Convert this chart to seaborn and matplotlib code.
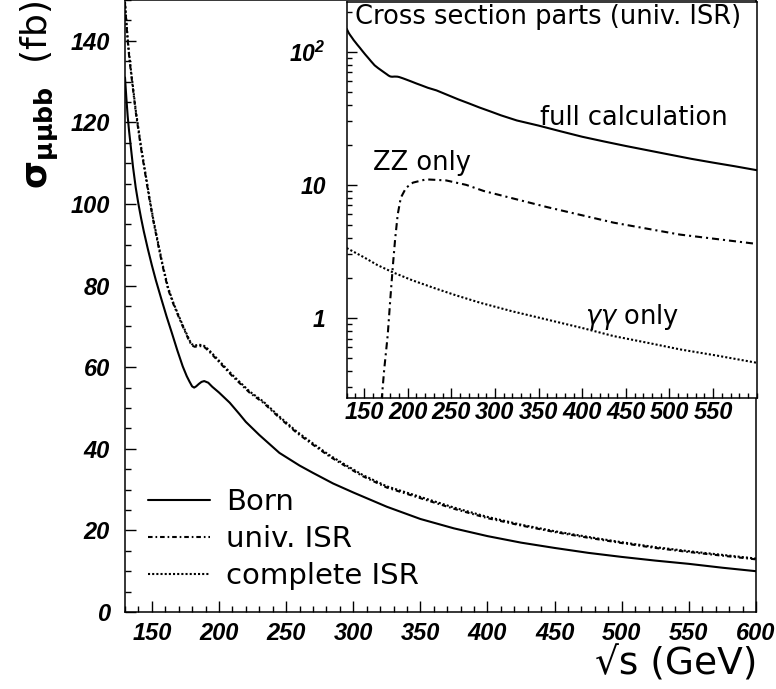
import numpy as np
import pandas as pd
import seaborn as sns
import matplotlib
matplotlib.use("Agg")
import matplotlib.pyplot as plt
from matplotlib.ticker import FixedLocator, MultipleLocator, FixedFormatter, LogLocator, NullFormatter
from matplotlib.font_manager import FontProperties

# ---------------- data ----------------
energy_born = [130, 131, 132, 133, 134, 135, 136, 137, 138, 140, 142, 144, 147, 150, 153, 157,
               161, 165, 169, 173, 176, 178, 180, 181.5, 183, 185, 187, 189, 192, 195, 200,
               208, 215, 220, 230, 245, 260, 270, 285, 300, 325, 350, 375, 400, 425, 450,
               475, 500, 525, 550, 575, 600]
sigma_born = [131, 126, 121.5, 118, 115, 112, 109, 106.5, 104, 100, 96.5, 93.3, 89, 85, 81.3, 76.8,
              72.4, 68.3, 64.1, 60.2, 57.8, 56.5, 55.3, 55.0, 55.3, 55.9, 56.4, 56.6, 56.2, 55.2, 53.8,
              51.3, 48.6, 46.6, 43.4, 39.0, 35.9, 34.1, 31.5, 29.3, 25.8, 22.8, 20.5, 18.6, 17.0, 15.7,
              14.5, 13.5, 12.6, 11.8, 10.85, 10.0]

energy_isr = [130, 131, 132, 133, 134, 136, 138, 140, 142, 145, 148, 151, 155, 158, 162, 166,
              170, 173, 176, 178, 180, 182, 185, 188, 190, 194, 198, 204, 210, 216, 223, 233,
              245, 258, 270, 282, 295, 307, 325, 350, 375, 400, 425, 450, 475, 500, 525, 550,
              575, 600]
sigma_univ = [149, 144.5, 140, 136.5, 133.5, 128, 122.5, 118, 113.5, 107.5, 101.5, 96, 89.5, 84.8, 79.2, 75.5,
              72.3, 70.0, 67.8, 66.3, 65.3, 65.0, 65.2, 65.1, 64.7, 63.4, 62.0, 59.9, 57.8, 55.9, 53.7, 51.3,
              47.6, 43.9, 41.0, 38.2, 35.6, 33.3, 30.5, 27.9, 25.3, 23.0, 21.2, 19.6, 18.2, 16.9, 15.7, 14.7,
              13.8, 12.9]
sigma_complete = [149.5, 145, 140.5, 137, 134, 128.5, 123, 118.5, 114, 108, 102, 96.4, 89.9, 85.2, 79.6, 75.8,
                  72.6, 70.3, 68.1, 66.6, 65.6, 65.3, 65.5, 65.4, 65.0, 63.7, 62.3, 60.2, 58.1, 56.2, 54.0, 51.6,
                  47.9, 44.2, 41.3, 38.5, 35.9, 33.6, 30.8, 28.2, 25.6, 23.3, 21.4, 19.8, 18.4, 17.1, 15.9, 14.9,
                  14.0, 13.1]

energy_zz = [170, 173, 177, 180, 183, 185.5, 188.5, 192, 198, 206, 221, 244, 267, 287,
             360, 436, 512, 600]
sigma_zz = [0.24, 0.41, 0.74, 1.39, 2.5, 3.9, 6.0, 8.0, 9.5, 10.4, 11.0, 10.8, 10.0, 9.0,
            6.8, 5.2, 4.23, 3.6]

energy_aa = [130, 150, 165, 183, 205, 230, 255, 283, 320, 360, 400, 436, 475, 512, 555, 600]
sigma_aa = [3.35, 2.85, 2.5, 2.2, 1.92, 1.68, 1.48, 1.3, 1.12, 0.97, 0.84, 0.73, 0.65, 0.58, 0.52, 0.46]

main_xticks = [150, 200, 250, 300, 350, 400, 450, 500, 550, 600]
main_yticks = [0, 20, 40, 60, 80, 100, 120, 140]
inset_xticks = [150, 200, 250, 300, 350, 400, 450, 500, 550]
inset_yticks = [1, 10, 100]
inset_ylabels = ["1", "10", "10$^{2}$"]

legend_labels = ["Born", "univ. ISR", "complete ISR"]

# ---------------- style ----------------
sns.set_style("white")
plt.rcParams["font.family"] = ["DejaVu Sans"]
plt.rcParams["mathtext.fontset"] = "dejavusans"
plt.rcParams["mathtext.default"] = "regular"
plt.rcParams["axes.linewidth"] = 1.1
plt.rcParams["axes.edgecolor"] = "black"
plt.rcParams["text.color"] = "black"
plt.rcParams["axes.labelcolor"] = "black"
plt.rcParams["xtick.color"] = "black"
plt.rcParams["ytick.color"] = "black"

tickfp = FontProperties(family="Liberation Sans", weight="bold", style="italic", size=17)
insetfp = FontProperties(family="Liberation Sans", weight="bold", style="italic", size=17)
insetyfp = FontProperties(family="Liberation Sans", weight="bold", style="italic", size=16.5)

fig = plt.figure(figsize=(7.76, 6.89), dpi=100)
ax = fig.add_axes([125 / 776, 77 / 689, 631 / 776, 612 / 689])

lw = 1.5
sns.lineplot(x=energy_born, y=sigma_born, ax=ax, color="black", lw=lw,
             label=legend_labels[0], errorbar=None)
sns.lineplot(x=energy_isr, y=sigma_univ, ax=ax, color="black", lw=lw,
             label=legend_labels[1], errorbar=None)
sns.lineplot(x=energy_isr, y=sigma_complete, ax=ax, color="black", lw=lw,
             label=legend_labels[2], errorbar=None)
ax.lines[0].set_linestyle("-")
ax.lines[1].set_linestyle((0, (2.2, 1.4, 0.8, 1.4)))
ax.lines[2].set_linestyle((0, (1, 1)))

ax.set_xlim(130, 600)
ax.set_ylim(0, 150)
ax.set_xlabel("")
ax.set_ylabel("")
ax.set_xticks(main_xticks)
ax.set_xticklabels([str(v) for v in main_xticks], fontproperties=tickfp)
ax.set_yticks(main_yticks)
ax.set_yticklabels([str(v) for v in main_yticks], fontproperties=tickfp)
ax.xaxis.set_minor_locator(MultipleLocator(10))
ax.yaxis.set_minor_locator(MultipleLocator(5))
ax.tick_params(which="both", direction="in", bottom=True, left=True, top=False, right=False,
               color="black", width=1.0)
ax.tick_params(axis="x", which="major", length=8, pad=7.5)
ax.tick_params(axis="y", which="major", length=8, pad=11)
ax.tick_params(which="minor", length=4)
for s in ax.spines.values():
    s.set_visible(True)
    s.set_color("black")

leg = ax.legend(handles=ax.lines[:3], labels=legend_labels, loc="upper left",
                bbox_to_anchor=(0.037, 0.203), frameon=False, fontsize=21,
                handlelength=2.1, handletextpad=0.55, labelspacing=0.32,
                borderpad=0, borderaxespad=0)

fig.text(757 / 776, 0.036, "\u221as (GeV)", ha="right", va="center", fontsize=27)
fig.text(0.052, 0.999, r"$\mathbf{\sigma}_{\mathbf{\mu\mu bb}}$  (fb)", rotation=90,
         ha="center", va="top", fontsize=26)

# ---------------- inset ----------------
axi = fig.add_axes([346.7 / 776, 291 / 689, 410 / 776, 396 / 689])
axi.set_zorder(5)
axi.set_facecolor("white")
sns.lineplot(x=energy_isr, y=sigma_univ, ax=axi, color="black", lw=lw, errorbar=None)
sns.lineplot(x=energy_zz, y=sigma_zz, ax=axi, color="black", lw=lw, errorbar=None)
sns.lineplot(x=energy_aa, y=sigma_aa, ax=axi, color="black", lw=lw, errorbar=None)
axi.lines[0].set_linestyle("-")
axi.lines[1].set_linestyle((0, (3.4, 1.9, 1.0, 1.9)))
axi.lines[2].set_linestyle((0, (1, 1)))
axi.set_yscale("log")
axi.set_xlim(130, 600)
axi.set_ylim(0.25, 237)
axi.set_xlabel("")
axi.set_ylabel("")
axi.set_xticks(inset_xticks)
axi.set_xticklabels([str(v) for v in inset_xticks], fontproperties=insetfp)
axi.xaxis.set_minor_locator(MultipleLocator(10))
axi.set_yticks(inset_yticks)
axi.set_yticklabels(inset_ylabels, fontproperties=insetyfp)
axi.yaxis.set_minor_locator(LogLocator(base=10, subs=np.arange(2, 10)))
axi.yaxis.set_minor_formatter(NullFormatter())
axi.tick_params(which="both", direction="in", bottom=True, left=True, top=False, right=False,
                color="black", width=1.0)
axi.tick_params(axis="x", which="major", length=7, pad=2)
axi.tick_params(axis="y", which="major", length=7, pad=15)
axi.tick_params(which="minor", length=3.5)
for s in axi.spines.values():
    s.set_visible(True)
    s.set_color("black")

axi.text(0.020, 0.962, "Cross section parts (univ. ISR)", transform=axi.transAxes,
         ha="left", va="center", fontsize=18.5)
axi.text(0.472, 0.707, "full calculation", transform=axi.transAxes,
         ha="left", va="center", fontsize=18.5)
axi.text(0.064, 0.593, "ZZ only", transform=axi.transAxes,
         ha="left", va="center", fontsize=18.5)
axi.text(0.581, 0.205, r"$\mathit{\gamma\gamma}$ only", transform=axi.transAxes,
         ha="left", va="center", fontsize=18.5)

fig.savefig("out.png", dpi=100, facecolor="white")
